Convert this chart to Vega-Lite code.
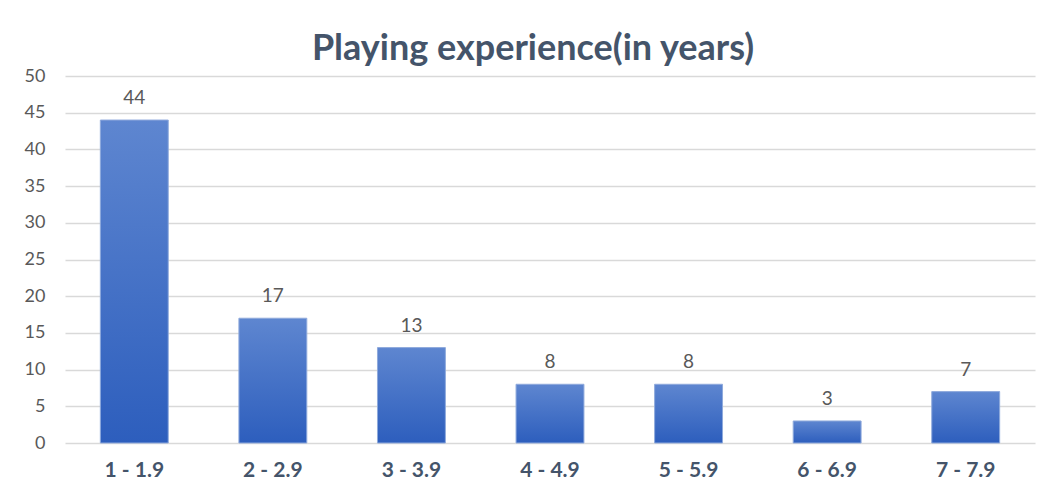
{
  "$schema": "https://vega.github.io/schema/vega-lite/v6.json",
  "autosize": "none",
  "width": 970,
  "height": 367,
  "padding": {"left": 65, "top": 76, "right": 12, "bottom": 48},
  "background": "white",
  "title": {
    "text": "Playing experience(in years)",
    "font": "Lato",
    "fontSize": 36,
    "fontWeight": "bold",
    "color": "#44546A",
    "anchor": "middle",
    "dx": -17,
    "offset": -1
  },
  "data": {
    "values": [
      {"range": "1 - 1.9", "count": 44},
      {"range": "2 - 2.9", "count": 17},
      {"range": "3 - 3.9", "count": 13},
      {"range": "4 - 4.9", "count": 8},
      {"range": "5 - 5.9", "count": 8},
      {"range": "6 - 6.9", "count": 3},
      {"range": "7 - 7.9", "count": 7}
    ]
  },
  "encoding": {
    "x": {
      "field": "range",
      "type": "nominal",
      "sort": null,
      "scale": {"paddingInner": 0.51, "paddingOuter": 0.255},
      "axis": {
        "title": null,
        "labelAngle": 0,
        "labelFont": "Lato",
        "labelFontSize": 21,
        "labelFontWeight": "bold",
        "labelColor": "#44546A",
        "labelPadding": 16,
        "domain": false,
        "ticks": false
      }
    },
    "y": {
      "field": "count",
      "type": "quantitative",
      "scale": {"domain": [0, 50], "nice": false},
      "axis": {
        "title": null,
        "values": [0, 5, 10, 15, 20, 25, 30, 35, 40, 45, 50],
        "labelFont": "Lato",
        "labelFontSize": 18,
        "labelColor": "#595959",
        "labelPadding": 20,
        "domain": false,
        "ticks": false,
        "grid": true,
        "gridColor": "#D9D9D9",
        "gridWidth": 1.5
      }
    }
  },
  "layer": [
    {
      "mark": {
        "type": "bar",
        "stroke": "#8FAADC",
        "strokeWidth": 1,
        "color": {
          "gradient": "linear",
          "x1": 0, "y1": 0, "x2": 0, "y2": 1,
          "stops": [
            {"offset": 0, "color": "#5E86D0"},
            {"offset": 1, "color": "#2D5EBD"}
          ]
        }
      }
    },
    {
      "mark": {
        "type": "text",
        "baseline": "bottom",
        "dy": -12,
        "font": "Lato",
        "fontSize": 19,
        "color": "#595959"
      },
      "encoding": {"text": {"field": "count", "type": "quantitative"}}
    }
  ],
  "config": {"view": {"stroke": null}}
}
